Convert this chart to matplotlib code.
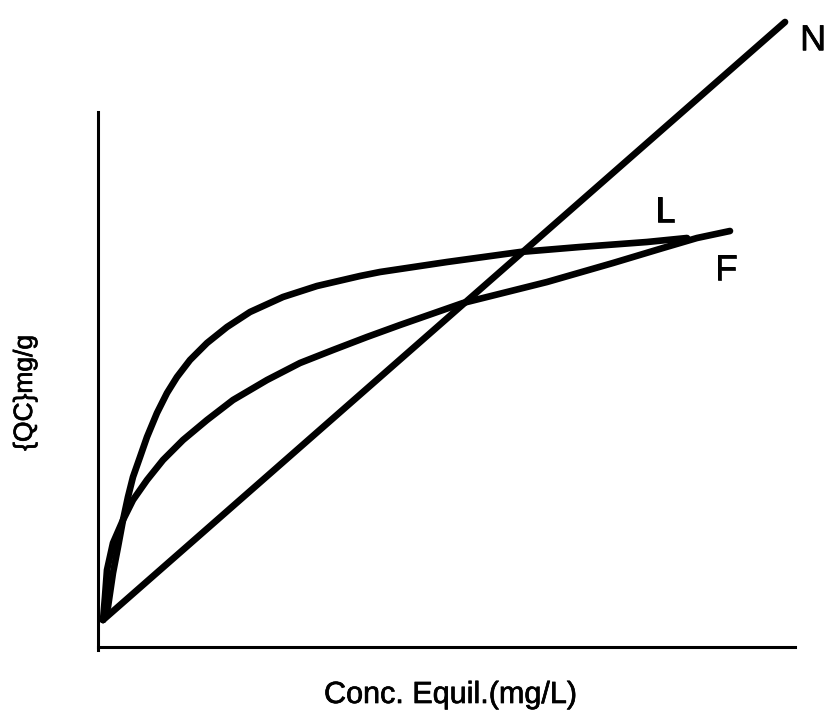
import matplotlib
matplotlib.use("Agg")
import matplotlib.pyplot as plt
import matplotlib.patheffects as pe

plt.rcParams['font.family'] = ['Liberation Sans', 'DejaVu Sans']

# isotherm shapes (arbitrary units, 0..100)
n_x = [0.72, 98.57]
n_y = [4.32, 100.0]

l_x = [0.72, 1.43, 2.15, 2.87, 3.59, 4.30, 5.02, 6.03, 7.03, 8.46, 9.90, 11.33,
       13.20, 15.64, 18.51, 21.81, 26.54, 31.42, 37.59, 40.46, 50.07, 60.54,
       69.15, 78.77, 84.51]
l_y = [4.32, 6.4, 11.84, 16.0, 20.32, 24.0, 27.2, 30.4, 33.6, 37.44, 40.64, 43.2,
       45.92, 48.64, 51.2, 53.6, 56.0, 57.76, 59.36, 60.0, 61.6, 63.2,
       64.0, 64.8, 65.44]

f_x = [0.72, 1.0, 1.29, 2.15, 3.59, 5.02, 7.03, 9.33, 12.20, 15.64, 19.37,
       24.25, 28.98, 33.72, 38.59, 43.33, 52.37, 64.42, 73.89, 81.06, 85.94, 90.67]
f_y = [4.32, 8.0, 12.32, 16.64, 20.32, 23.52, 26.72, 29.92, 33.12, 36.32, 39.52,
       42.72, 45.44, 47.52, 49.6, 51.52, 55.04, 58.4, 61.44, 63.84, 65.44, 66.56]

names = ['N', 'L', 'F']

fig = plt.figure(figsize=(8.25, 7.26), dpi=100)
ax = fig.add_axes([98 / 825, 1 - 647 / 726, 697 / 825, 625 / 726])
ax.set_xlim(0, 100)
ax.set_ylim(0, 100)

kw = dict(color='black', lw=4.8, solid_capstyle='round',
          solid_joinstyle='round', clip_on=False)
ax.plot(n_x, n_y, **kw)
ax.plot(l_x, l_y, **kw)
ax.plot(f_x, f_y, **kw)

# scanned look: slightly heavier glyphs
bold = [pe.withStroke(linewidth=0.5, foreground='black')]

ax.text(102.6, 97.0, names[0], fontsize=26, ha='center', va='center',
        clip_on=False, path_effects=bold)
ax.text(81.4, 69.6, names[1], fontsize=26, ha='center', va='center', path_effects=bold)
ax.text(90.1, 60.3, names[2], fontsize=26, ha='center', va='center', path_effects=bold)

for s in ['top', 'right']:
    ax.spines[s].set_visible(False)
ax.spines['left'].set_linewidth(2.2)
ax.spines['bottom'].set_linewidth(2.2)
ax.spines['left'].set_bounds(-0.5, 85.6)
ax.spines['bottom'].set_bounds(0, 100)
ax.set_xticks([])
ax.set_yticks([])

fig.text(450 / 825, 1 - 695 / 726, 'Conc. Equil.(mg/L)', fontsize=22,
         ha='center', va='center', path_effects=bold)
fig.text(25 / 825, 1 - 393 / 726, '{QC}mg/g', fontsize=19, rotation=90,
         ha='center', va='center', path_effects=bold)

fig.savefig('out.png', dpi=100)
